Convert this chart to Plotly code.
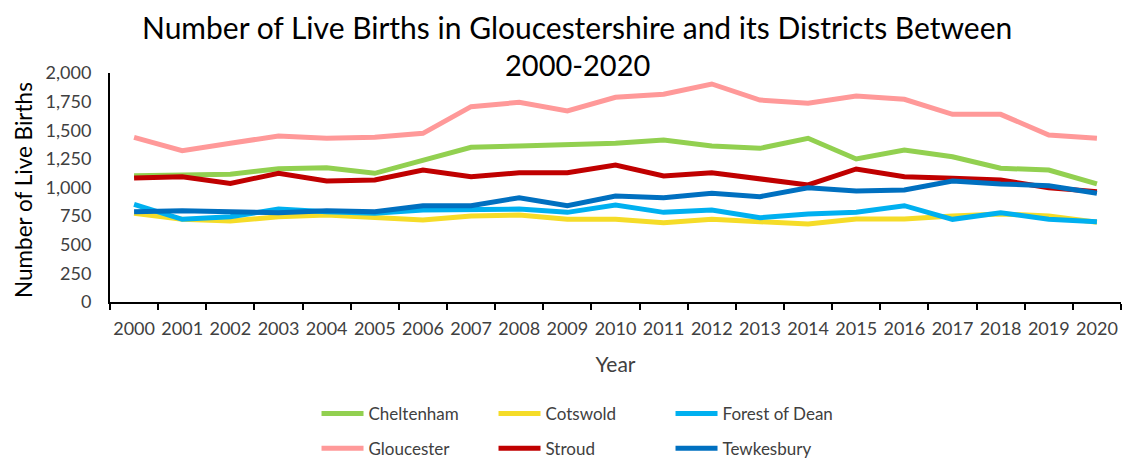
import plotly.graph_objects as go

years = [str(y) for y in range(2000, 2021)]

cheltenham = [1103, 1109, 1115, 1164, 1173, 1124, 1240, 1351, 1362, 1371, 1386, 1415, 1362, 1342, 1430, 1249, 1328, 1269, 1168, 1153, 1031]
cotswold = [775, 722, 707, 745, 760, 736, 716, 751, 760, 722, 722, 693, 722, 701, 681, 725, 725, 751, 769, 751, 696]
forest_of_dean = [853, 722, 745, 812, 789, 775, 803, 803, 812, 783, 847, 783, 803, 736, 769, 783, 841, 722, 780, 722, 701]
gloucester = [1438, 1321, 1386, 1450, 1430, 1438, 1473, 1706, 1744, 1668, 1788, 1814, 1904, 1764, 1735, 1799, 1770, 1639, 1639, 1459, 1430]
stroud = [1083, 1094, 1036, 1124, 1057, 1066, 1153, 1094, 1129, 1129, 1196, 1100, 1129, 1080, 1022, 1162, 1094, 1080, 1066, 998, 964]
tewkesbury = [789, 797, 789, 780, 797, 789, 841, 841, 911, 841, 926, 911, 949, 920, 998, 969, 978, 1057, 1031, 1016, 949]

series = [
    ("Cheltenham", cheltenham, "#92D050", "legend"),
    ("Cotswold", cotswold, "#F5DC28", "legend"),
    ("Forest of Dean", forest_of_dean, "#00B0F0", "legend"),
    ("Gloucester", gloucester, "#FF9999", "legend2"),
    ("Stroud", stroud, "#C00000", "legend2"),
    ("Tewkesbury", tewkesbury, "#0070C0", "legend2"),
]

FONT = "Lato, sans-serif"
TXT = "#404040"

fig = go.Figure()
for name, vals, color, lg in series:
    fig.add_trace(go.Scatter(x=years, y=vals, name=name, mode="lines",
                             line=dict(color=color, width=5), legend=lg))

W, H = 1128, 460
L, R, T, B = 110, 7, 73, 158
PW, PH = W - L - R, H - T - B


def py(p):
    return (H - B - p) / PH


def px(p):
    return (p - L) / PW


fig.update_layout(
    width=W, height=H,
    paper_bgcolor="white", plot_bgcolor="white",
    font=dict(family=FONT, color=TXT, size=18),
    margin=dict(l=L, r=R, t=T, b=B),
    xaxis=dict(type="category", range=[-0.5, 20.5], automargin=False,
               showline=True, linecolor="black", linewidth=2,
               ticks="outside", tickson="boundaries", ticklen=6, tickcolor="black", tickwidth=2,
               showgrid=False, ticklabelstandoff=9, tickangle=0,
               title=dict(text="Year", font=dict(size=21, color=TXT), standoff=20),
               tickfont=dict(size=18, color=TXT)),
    yaxis=dict(range=[0, 2000], dtick=250, tickformat=",", automargin=False,
               showline=True, linecolor="black", linewidth=2,
               showgrid=False, zeroline=False, ticks="", ticklabelstandoff=13,
               tickfont=dict(size=18, color=TXT)),
    legend=dict(orientation="h", xref="container", yref="container",
                x=0.2806, xanchor="left", y=0.1395, yanchor="top", itemwidth=42,
                entrywidth=120, entrywidthmode="pixels", font=dict(size=17, color=TXT),
                bgcolor="rgba(0,0,0,0)"),
    legend2=dict(orientation="h", xref="container", yref="container",
                 x=0.2806, xanchor="left", y=0.0635, yanchor="top", itemwidth=42,
                 entrywidth=120, entrywidthmode="pixels", font=dict(size=17, color=TXT),
                 bgcolor="rgba(0,0,0,0)"),
    annotations=[
        dict(text="Number of Live Births in Gloucestershire and its Districts Between",
             xref="paper", yref="paper", x=px(577), y=py(27), xanchor="center", yanchor="middle",
             showarrow=False, font=dict(size=30, color="black")),
        dict(text="2000-2020", xref="paper", yref="paper", x=px(577), y=py(65),
             xanchor="center", yanchor="middle", showarrow=False,
             font=dict(size=29, color="black")),
        dict(text="Number of Live Births", xref="paper", yref="paper",
             x=px(23), y=py(190), xanchor="center", yanchor="middle", textangle=-90,
             showarrow=False, font=dict(size=22.5, color="black")),
    ],
)

fig.write_html("out.html", config={"displayModeBar": False},
               post_script="document.body.style.margin='0';")
